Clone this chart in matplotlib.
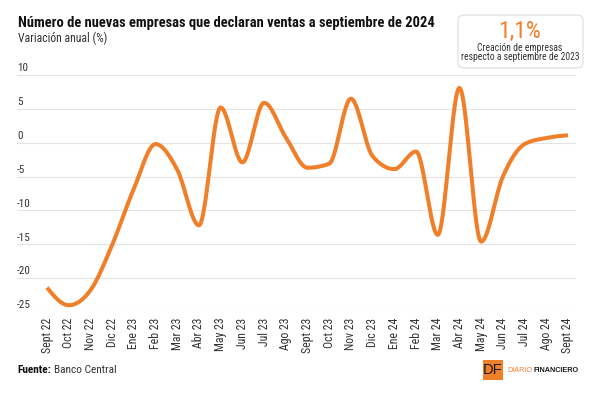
import numpy as np
import matplotlib.pyplot as plt
from matplotlib.patches import FancyBboxPatch, Rectangle

meses = ['Sept 22', 'Oct 22', 'Nov 22', 'Dic 22', 'Ene 23', 'Feb 23', 'Mar 23',
         'Abr 23', 'May 23', 'Jun 23', 'Jul 23', 'Ago 23', 'Sept 23', 'Oct 23',
         'Nov 23', 'Dic 23', 'Ene 24', 'Feb 24', 'Mar 24', 'Abr 24', 'May 24',
         'Jun 24', 'Jul 24', 'Ago 24', 'Sept 24']
variacion = [-21.4, -24.0, -21.8, -15.1, -6.8, -0.2, -4.0, -12.2, 5.2, -2.9,
             5.9, 0.8, -3.7, -3.1, 6.5, -2.0, -3.9, -1.3, -13.6, 8.1, -14.6,
             -5.0, -0.2, 0.7, 1.1]
yticks = [10, 5, 0, -5, -10, -15, -20, -25]

naranja = '#F07F2A'
gris_txt = '#333333'
plt.rcParams['font.family'] = ['Roboto Condensed', 'Roboto', 'DejaVu Sans']


# monotone cubic (like d3 curveMonotoneX) for the smooth line
def monotone(x, y, n=30):
    x = np.asarray(x, float)
    y = np.asarray(y, float)
    h = np.diff(x)
    s = np.diff(y) / h
    m = np.zeros_like(y)
    for i in range(1, len(y) - 1):
        p = (s[i - 1] * h[i] + s[i] * h[i - 1]) / (h[i - 1] + h[i])
        m[i] = (np.sign(s[i - 1]) + np.sign(s[i])) * min(abs(s[i - 1]), abs(s[i]), 0.5 * abs(p))
    m[0] = (3 * s[0] - m[1]) / 2
    m[-1] = (3 * s[-1] - m[-2]) / 2
    xs, ys = [], []
    for i in range(len(h)):
        t = np.linspace(0, 1, n, endpoint=False)
        h00 = 2 * t**3 - 3 * t**2 + 1
        h10 = t**3 - 2 * t**2 + t
        h01 = -2 * t**3 + 3 * t**2
        h11 = t**3 - t**2
        xs.append(x[i] + t * h[i])
        ys.append(h00 * y[i] + h10 * h[i] * m[i] + h01 * y[i + 1] + h11 * h[i] * m[i + 1])
    xs.append([x[-1]])
    ys.append([y[-1]])
    return np.concatenate(xs), np.concatenate(ys)


W, H = 600, 394
fig = plt.figure(figsize=(6, 3.94), dpi=100)
rend = fig.canvas.get_renderer()


def fit(t, width_px):
    # shrink/grow a text so it spans width_px pixels
    w = t.get_window_extent(rend).width
    t.set_fontsize(t.get_fontsize() * width_px / w)
    return t


def right_edge(t):
    return t.get_window_extent(rend).x1


ax = fig.add_axes([17 / W, 1 - 312 / H, 559 / W, 237 / H])

x = np.arange(len(meses))
xs, ys = monotone(x, variacion)
ax.plot(xs, ys, color=naranja, lw=2.9, solid_capstyle='butt', clip_on=False, zorder=3)

px = (568 - 47) / 24
ax.set_xlim(-30 / px, 24 + 8 / px)
ax.set_ylim(-25, 10)

for v in yticks:
    ax.axhline(v, color='#e4e4e4', lw=0.8, zorder=1)
    ax.annotate(str(v), xy=(0, v), xycoords=('axes fraction', 'data'),
                xytext=(0, 1.2), textcoords='offset points',
                ha='left', va='bottom', fontsize=8, color=gris_txt)

ax.set_yticks([])
ax.set_xticks(x)
ax.set_xticklabels(meses, rotation=90, fontsize=8.5, color=gris_txt)
ax.tick_params(axis='x', length=0, pad=4)
for sp in ax.spines.values():
    sp.set_visible(False)

# titles
tt = fig.text(18 / W, 1 - 23 / H, 'Número de nuevas empresas que declaran ventas a septiembre de 2024',
              fontsize=11.5, fontweight='bold', color='#111111', va='center', ha='left')
fit(tt, 419)
st = fig.text(18 / W, 1 - 38 / H, 'Variación anual (%)', fontsize=8.5, color=gris_txt,
              va='center', ha='left')
fit(st, 89)

# highlight box
box = FancyBboxPatch((458 / W, 1 - 68 / H), 125 / W, 53 / H,
                     boxstyle='round,pad=0,rounding_size=0.012',
                     transform=fig.transFigure, facecolor='white',
                     edgecolor='#dddddd', lw=0.8)
fig.patches.append(box)
fig.text(520 / W, 1 - 31 / H, '1,1%', fontsize=17, color=naranja, ha='center', va='center')
c1 = fig.text(520 / W, 1 - 48 / H, 'Creación de empresas', fontsize=7, color=gris_txt,
              ha='center', va='center')
c2 = fig.text(520 / W, 1 - 57.5 / H, 'respecto a septiembre de 2023', fontsize=7, color=gris_txt,
              ha='center', va='center')
fit(c2, 118)
c1.set_fontsize(c2.get_fontsize())

# footer
f1 = fig.text(17 / W, 1 - 370 / H, 'Fuente:', fontsize=8.5, fontweight='bold',
              color='#111111', va='center', ha='left')
fit(f1, 34)
f2 = fig.text((right_edge(f1) + 3) / W, 1 - 370 / H, 'Banco Central', color=gris_txt,
              fontsize=f1.get_fontsize(), va='center', ha='left')

fig.patches.append(Rectangle((483 / W, 1 - 380 / H), 20 / W, 20 / H,
                             transform=fig.transFigure, facecolor=naranja, edgecolor='none'))
fig.text(493 / W, 1 - 370.5 / H, 'DF', fontsize=10.5, color='#1a1a1a', ha='center', va='center',
         family='Liberation Sans')
d1 = fig.text(507 / W, 1 - 370 / H, 'DIARIO', fontsize=6, color=naranja, ha='left', va='center',
              family='Liberation Sans')
fit(d1, 25)
d2 = fig.text((right_edge(d1) + 1.5) / W, 1 - 370 / H, 'FINANCIERO', fontsize=d1.get_fontsize(),
              color='#1a1a1a', fontweight='bold', ha='left', va='center',
              family='Liberation Sans')

fig.savefig('out.png', dpi=100, facecolor='white')
